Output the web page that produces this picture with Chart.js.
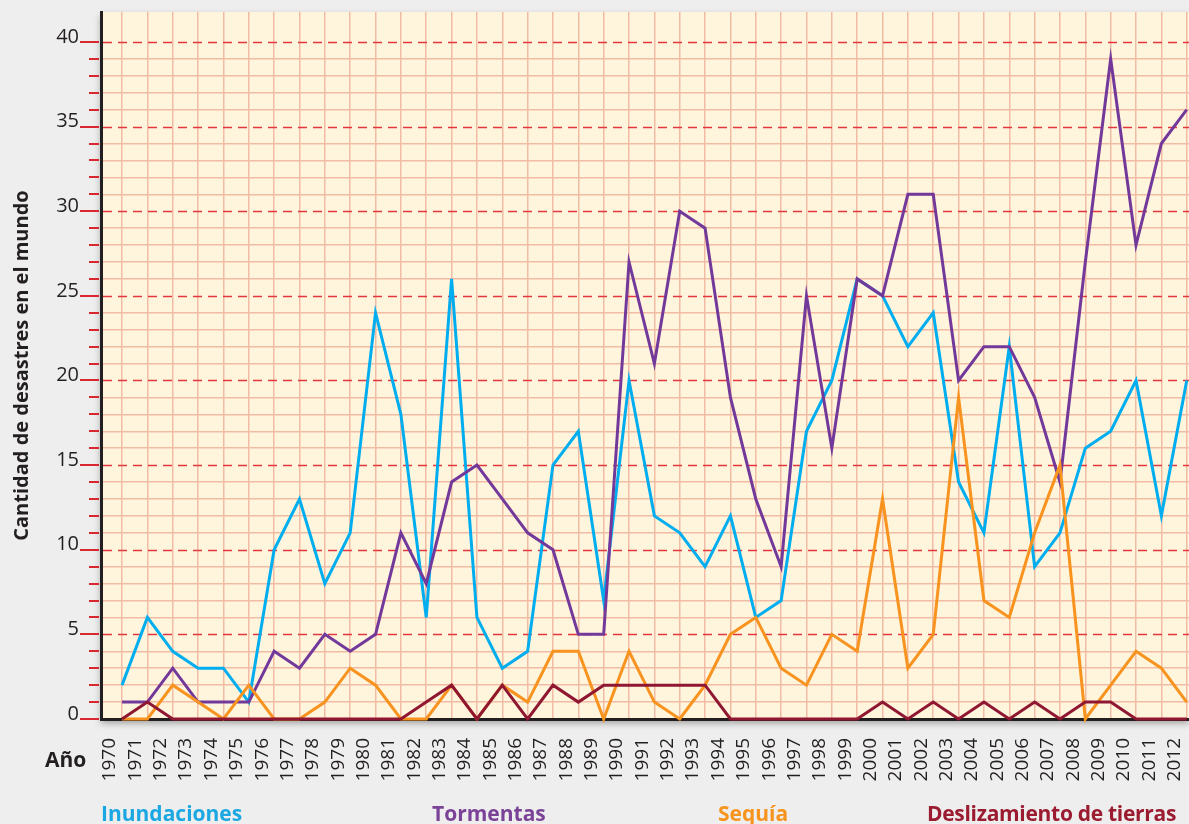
<!DOCTYPE html>
<html lang="es">
<head>
<meta charset="utf-8">
<title>Cantidad de desastres en el mundo 1970-2012</title>
<script src="https://cdn.jsdelivr.net/npm/chart.js@4.4.0/dist/chart.umd.min.js"></script>
<style>
  html, body { margin: 0; padding: 0; background: #eeeeee; }
  #wrap { position: relative; width: 1189px; height: 824px; overflow: hidden; font-family: "Open Sans", sans-serif; }
  #wrap canvas { position: absolute; left: 0; top: 0; }
  .lbl { position: absolute; font-weight: 700; font-size: 21px; line-height: 21px; white-space: nowrap; }
</style>
</head>
<body>
<div id="wrap">
  <canvas id="desastresChart" width="1189" height="824"></canvas>
  <div class="lbl" style="left:45px; top:749px; color:#231f20;">Año</div>
  <div class="lbl" style="left:101px; top:803px; color:#1ba8e2;">Inundaciones</div>
  <div class="lbl" style="left:432px; top:803px; color:#7b4397;">Tormentas</div>
  <div class="lbl" style="left:718px; top:803px; color:#f7941d;">Sequía</div>
  <div class="lbl" style="left:927px; top:803px; color:#9b1b30; letter-spacing:-0.3px;">Deslizamiento de tierras</div>
</div>
<script>
const years = [1970, 1971, 1972, 1973, 1974, 1975, 1976, 1977, 1978, 1979,
               1980, 1981, 1982, 1983, 1984, 1985, 1986, 1987, 1988, 1989,
               1990, 1991, 1992, 1993, 1994, 1995, 1996, 1997, 1998, 1999,
               2000, 2001, 2002, 2003, 2004, 2005, 2006, 2007, 2008, 2009,
               2010, 2011, 2012];

const inundaciones = [2, 6, 4, 3, 3, 1, 10, 13, 8, 11,
                      24, 18, 6, 26, 6, 3, 4, 15, 17, 7,
                      20, 12, 11, 9, 12, 6, 7, 17, 20, 26,
                      25, 22, 24, 14, 11, 22, 9, 11, 16, 17,
                      20, 12, 20];

const tormentas = [1, 1, 3, 1, 1, 1, 4, 3, 5, 4,
                   5, 11, 8, 14, 15, 13, 11, 10, 5, 5,
                   27, 21, 30, 29, 19, 13, 9, 25, 16, 26,
                   25, 31, 31, 20, 22, 22, 19, 14, 27, 39,
                   28, 34, 36];

const sequia = [0, 0, 2, 1, 0, 2, 0, 0, 1, 3,
                2, 0, 0, 2, 0, 2, 1, 4, 4, 0,
                4, 1, 0, 2, 5, 6, 3, 2, 5, 4,
                13, 3, 5, 19, 7, 6, 11, 15, 0, 2,
                4, 3, 1];

const deslizamientos = [0, 1, 0, 0, 0, 0, 0, 0, 0, 0,
                        0, 0, 1, 2, 0, 2, 0, 2, 1, 2,
                        2, 2, 2, 2, 0, 0, 0, 0, 0, 0,
                        1, 0, 1, 0, 1, 0, 1, 0, 1, 1,
                        0, 0, 0];

const yLabels = [0, 5, 10, 15, 20, 25, 30, 35, 40];

const gridColor = '#f2bba4';
const inkColor = '#231f20';

function toPoints(values) {
    return values.map((v, i) => ({ x: years[i], y: v }));
}

// cream paper, dashed red lines every 5 and the little red ticks on the axis
const paperPlugin = {
    id: 'paper',
    beforeDraw(chart) {
        const { ctx, chartArea: a } = chart;
        ctx.save();
        ctx.shadowColor = 'rgba(0, 0, 0, 0.35)';
        ctx.shadowBlur = 7;
        ctx.shadowOffsetY = 4;
        ctx.fillStyle = '#fff5dc';
        ctx.fillRect(a.left, a.top, a.right - a.left, a.bottom - a.top);
        ctx.restore();
    },
    beforeDatasetsDraw(chart) {
        const { ctx, chartArea: a, scales } = chart;
        ctx.save();
        ctx.strokeStyle = '#e2373d';
        ctx.lineWidth = 1.5;
        ctx.setLineDash([9, 6]);
        yLabels.forEach((v) => {
            if (v === 0) return;
            const py = Math.round(scales.y.getPixelForValue(v)) + 0.5;
            ctx.beginPath();
            ctx.moveTo(a.left + 2, py);
            ctx.lineTo(a.right, py);
            ctx.stroke();
        });
        ctx.restore();
    },
    afterDraw(chart) {
        const { ctx, chartArea: a, scales } = chart;
        ctx.save();
        ctx.strokeStyle = '#d9262f';
        ctx.lineWidth = 2;
        scales.y.ticks.forEach((t) => {
            const py = Math.round(scales.y.getPixelForValue(t.value));
            const len = t.value % 5 === 0 ? 20 : 11;
            ctx.beginPath();
            ctx.moveTo(a.left - len - 1, py);
            ctx.lineTo(a.left - 2, py);
            ctx.stroke();
        });
        ctx.restore();
    }
};

const ctx = document.getElementById('desastresChart').getContext('2d');

const desastresChart = new Chart(ctx, {
    type: 'line',
    data: {
        datasets: [
            { label: 'Deslizamiento de tierras', data: toPoints(deslizamientos), borderColor: '#8f1731', order: 0 },
            { label: 'Sequía', data: toPoints(sequia), borderColor: '#f7931e', order: 1 },
            { label: 'Tormentas', data: toPoints(tormentas), borderColor: '#73399a', order: 2 },
            { label: 'Inundaciones', data: toPoints(inundaciones), borderColor: '#00aeef', order: 3 },
        ],
    },
    options: {
        responsive: false,
        animation: false,
        layout: { padding: { top: 12, right: 0, bottom: 0, left: 0 } },
        datasets: {
            line: { borderWidth: 3, pointRadius: 0, tension: 0, fill: false, clip: 4 },
        },
        plugins: {
            legend: { display: false },
            tooltip: { enabled: false },
        },
        scales: {
            x: {
                type: 'linear',
                min: 1969.17,
                max: 2012.09,
                afterBuildTicks(scale) {
                    scale.ticks = years.map((v) => ({ value: v }));
                },
                afterFit(scale) {
                    scale.height = 105;
                    scale.paddingLeft = 0;
                    scale.paddingRight = 0;
                },
                grid: { color: gridColor, lineWidth: 1.5, drawTicks: false },
                border: { color: inkColor, width: 3 },
                ticks: {
                    autoSkip: false,
                    minRotation: 90,
                    maxRotation: 90,
                    padding: 19,
                    labelOffset: -12,
                    color: inkColor,
                    font: { family: 'Open Sans', size: 19 },
                    callback: (v) => String(v),
                },
            },
            y: {
                min: 0,
                max: 41.77,
                afterBuildTicks(scale) {
                    const ticks = [];
                    for (let v = 0; v <= 40; v++) ticks.push({ value: v });
                    scale.ticks = ticks;
                },
                afterFit(scale) {
                    scale.width = 101;
                    scale.paddingTop = 0;
                    scale.paddingBottom = 0;
                },
                grid: {
                    color: (c) => (c.tick && c.tick.value % 5 === 0 ? 'rgba(0,0,0,0)' : gridColor),
                    lineWidth: 1.5,
                    drawTicks: false,
                },
                border: { color: inkColor, width: 3 },
                ticks: {
                    autoSkip: false,
                    padding: 22,
                    labelOffset: -5,
                    color: inkColor,
                    font: { family: 'Open Sans', size: 20 },
                    callback: (v) => (yLabels.includes(v) ? String(v) : ''),
                },
                title: {
                    display: true,
                    text: 'Cantidad de desastres en el mundo',
                    color: inkColor,
                    font: { family: 'Open Sans', size: 20, weight: 'bold' },
                    padding: { top: 10, bottom: 0 },
                },
            },
        },
    },
    plugins: [paperPlugin],
});
</script>
</body>
</html>
